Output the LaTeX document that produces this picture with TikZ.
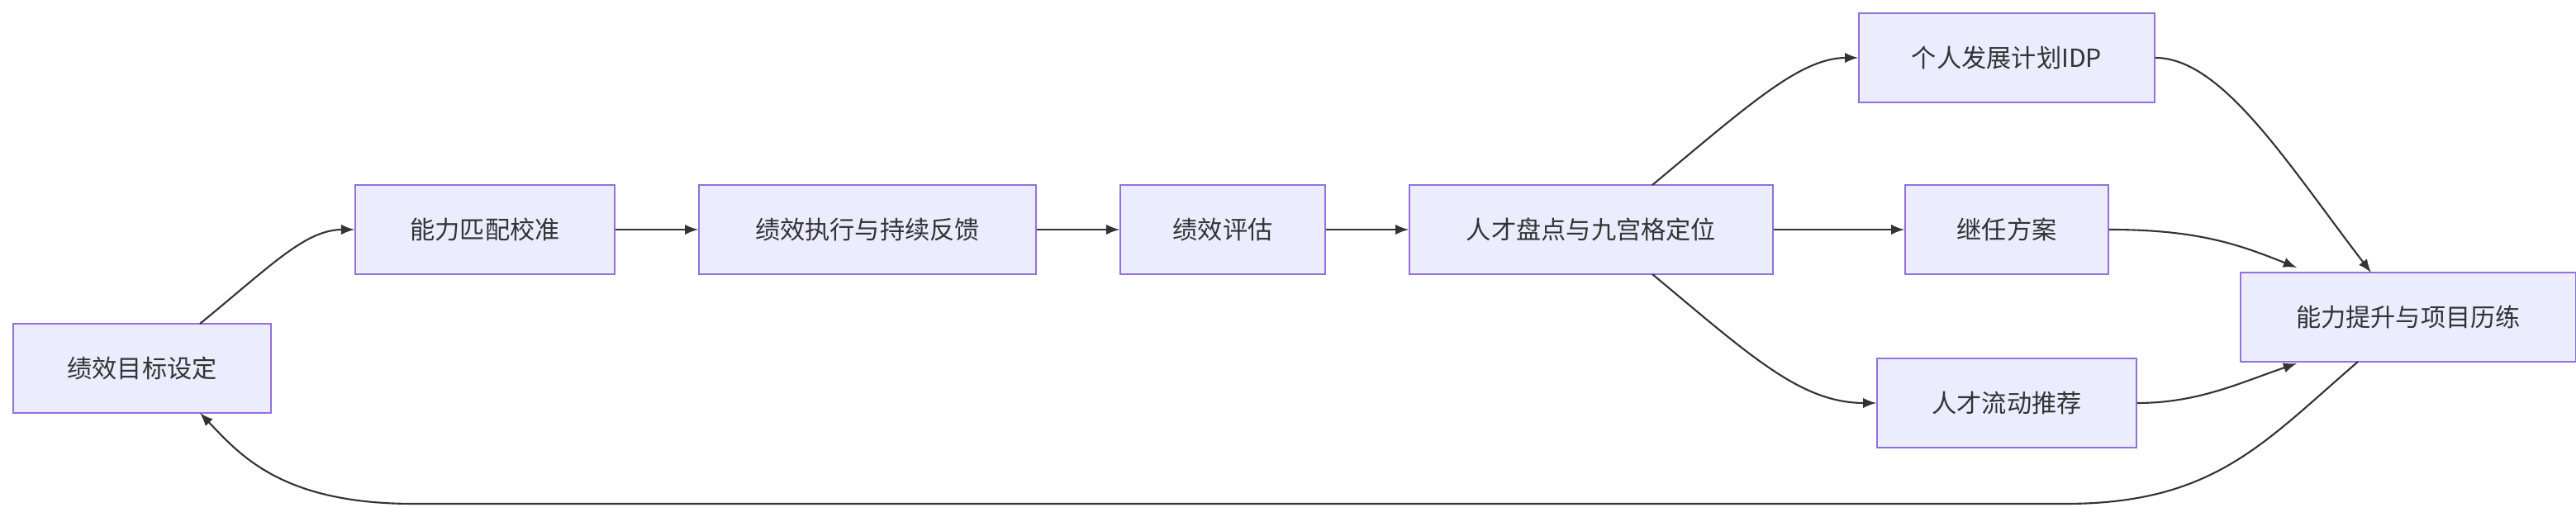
\documentclass[tikz,border=0pt]{standalone}
\usepackage{fontspec}
\setmainfont{Noto Sans CJK SC}
\usetikzlibrary{positioning}
\usetikzlibrary{arrows}
\definecolor{boxFill}{HTML}{ECECFF}
\definecolor{boxLine}{HTML}{9370DB}
\definecolor{testoCol}{HTML}{333333}
\begin{document}
\begin{tikzpicture}[x=0.02cm,y=-0.02cm,
passo/.style={draw=boxLine,fill=boxFill,line width=0.5pt,minimum height=1.08cm,inner sep=0pt,font=\fontsize{8.6pt}{10pt}\selectfont,text=testoCol},
freccia/.style={-latex,draw=testoCol,line width=0.6pt}
]
\useasboundingbox (0,0) rectangle (1559,313);
%--
\node[passo,minimum width=3.12cm](obiettivo) at (86,223){绩效目标设定};
\node[passo,minimum width=3.14cm](calibra) at (293.5,139){能力匹配校准};
\node[passo,minimum width=4.08cm](esegui) at (525,139){绩效执行与持续反馈};
\node[passo,minimum width=2.48cm](valuta) at (740,139){绩效评估};
\node[passo,minimum width=4.4cm](pando) at (963,139){人才盘点与九宫格定位};
%--
\node[passo,minimum width=3.58cm](idp) at (1214.5,35){个人发展计划IDP};
\node[passo,minimum width=2.46cm](succ) at (1214.5,139){继任方案};
\node[passo,minimum width=3.14cm](flusso) at (1214.5,244){人才流动推荐};
\node[passo,minimum width=4.06cm](cresci) at (1457.5,192){能力提升与项目历练};
%--
\draw[freccia] (121,196) .. controls (165,160) and (185,139) .. (calibra.west);
\draw[freccia] (calibra) -- (esegui);
\draw[freccia] (esegui) -- (valuta);
\draw[freccia] (valuta) -- (pando);
%--
\draw[freccia] (1000,112) .. controls (1060,62) and (1090,35) .. (idp.west);
\draw[freccia] (pando) -- (succ);
\draw[freccia] (1000,166) .. controls (1060,216) and (1090,244) .. (flusso.west);
%--
\draw[freccia] (idp.east) .. controls (1345,35) and (1385,100) .. (1435,165);
\draw[freccia] (succ.east) .. controls (1330,139) and (1355,148) .. (1390,162);
\draw[freccia] (flusso.east) .. controls (1330,244) and (1355,232) .. (1390,220);
%--
\coordinate (rit1) at (1250,305);
\coordinate (rit2) at (250,305);
\draw[freccia] (1427,219) .. controls (1370,268) and (1340,305) .. (rit1) -- (rit2) .. controls (170,305) and (145,275) .. (121,250);
\end{tikzpicture}
\end{document}
